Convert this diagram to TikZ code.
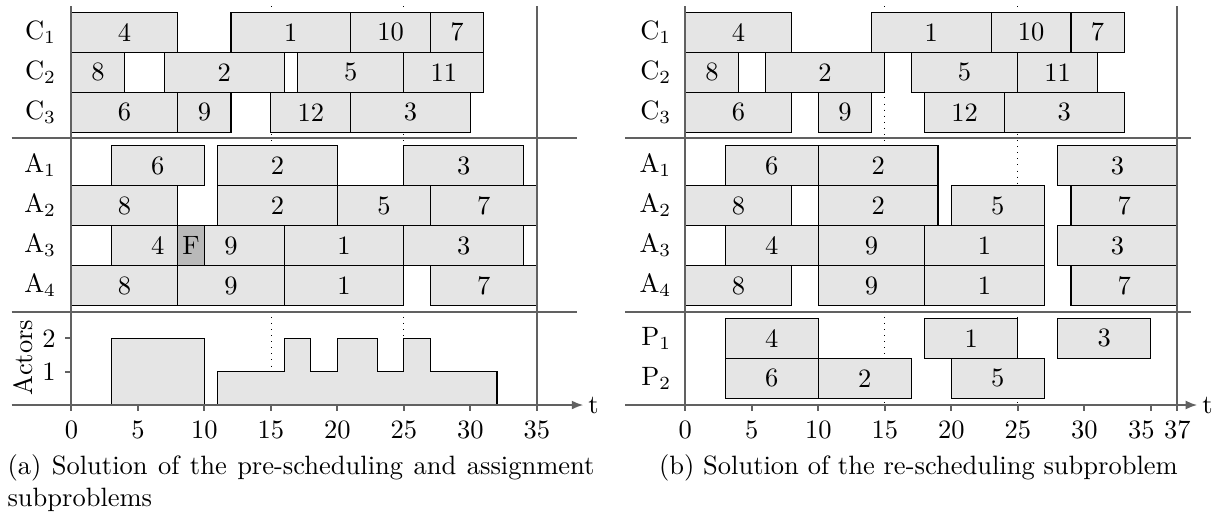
\documentclass[tikz,border=0pt]{standalone}
\usetikzlibrary{arrows.meta}
\tikzset{
  taskbox/.style={draw=black, fill=gray!20, line width=0.4pt},
  failbox/.style={draw=black, fill=gray!55, line width=0.4pt},
  tasklbl/.style={inner sep=0pt},
  axisline/.style={draw=black!62, line width=0.75pt},
  guide/.style={draw=black, dotted, line width=0.3pt},
  rowlbl/.style={anchor=east, inner sep=3.33pt},
  ticklbl/.style={anchor=north, inner sep=3.33pt},
  axisarrow/.style={axisline, -{Latex[length=4.4pt,width=3.4pt]}},
}
\newcommand\tsk[5]{\draw[taskbox] (#2,#4) rectangle node[tasklbl] (#1) {#5} (#3,{#4+40});}
\begin{document}
\begin{tikzpicture}[x=0.3774pt,y=-0.3774pt]
\useasboundingbox (0,0) rectangle (1222,514);
% ---------------- panel (a) ----------------
\begin{scope}[xshift=26.95pt, x=5.019pt]
\draw[guide] (15,6) -- (15,405);
\draw[guide] (25,6) -- (25,405);
\tsk{aC1a}{0}{8}{12.3}{4}
\tsk{aC1b}{12}{21}{12.3}{1}
\tsk{aC1c}{21}{27}{12.3}{10}
\tsk{aC1d}{27}{31}{12.3}{7}
\tsk{aC2a}{0}{4}{52.3}{8}
\tsk{aC2b}{7}{16}{52.3}{2}
\tsk{aC2c}{17}{25}{52.3}{5}
\tsk{aC2d}{25}{31}{52.3}{11}
\tsk{aC3a}{0}{8}{92.3}{6}
\tsk{aC3b}{8}{12}{92.3}{9}
\tsk{aC3c}{15}{21}{92.3}{12}
\tsk{aC3d}{21}{30}{92.3}{3}
\tsk{aA1a}{3}{10}{145.7}{6}
\tsk{aA1b}{11}{20}{145.7}{2}
\tsk{aA1c}{25}{34}{145.7}{3}
\tsk{aA2a}{0}{8}{185.7}{8}
\tsk{aA2b}{11}{20}{185.7}{2}
\tsk{aA2c}{20}{27}{185.7}{5}
\tsk{aA2d}{27}{35}{185.7}{7}
\tsk{aA3a}{3}{10}{225.7}{4}
\tsk{aA3b}{8}{16}{225.7}{9}
\draw[failbox] (8,225.7) rectangle node[tasklbl] (aF) {F} (10,265.7);
\tsk{aA3c}{16}{25}{225.7}{1}
\tsk{aA3d}{25}{34}{225.7}{3}
\tsk{aA4a}{0}{8}{265.7}{8}
\tsk{aA4b}{8}{16}{265.7}{9}
\tsk{aA4c}{16}{25}{265.7}{1}
\tsk{aA4d}{27}{35}{265.7}{7}
% actors profile
\draw[taskbox] (3,405) -- (3,338.3) -- (10,338.3) -- (10,405) -- cycle;
\draw[taskbox] (11,405) -- (11,371.7) -- (16,371.7) -- (16,338.3) -- (18,338.3) -- (18,371.7)
  -- (20,371.7) -- (20,338.3) -- (23,338.3) -- (23,371.7) -- (25,371.7) -- (25,338.3)
  -- (27,338.3) -- (27,371.7) -- (32,371.7) -- (32,405) -- cycle;
% frame
\draw[axisline] (-4.5,138.3) -- (38,138.3);
\draw[axisline] (-4.5,311.7) -- (38,311.7);
\draw[axisline] (0,6) -- (0,411);
\draw[axisline] (35,6) -- (35,411);
\draw[axisarrow] (-4.5,405) -- (38.5,405) node[right, inner sep=1.5pt] (at) {t};
\foreach \t in {5,10,...,30} \draw[axisline] (\t,405) -- (\t,411);
\foreach \t in {0,5,...,35} \node[ticklbl] (atl\t) at (\t,411) {\t};
\draw[axisline] (0,338.3) -- (-0.45,338.3) node[left, inner sep=3.33pt] (ay2) {2};
\draw[axisline] (0,371.7) -- (-0.45,371.7) node[left, inner sep=3.33pt] (ay1) {1};
\node[rotate=90, inner sep=0pt] (aact) at (-3.64,357.5) {Actors};
\node[rowlbl] (aLC1) at (-0.45,32.3) {$\mathrm{C}_1$};
\node[rowlbl] (aLC2) at (-0.45,72.3) {$\mathrm{C}_2$};
\node[rowlbl] (aLC3) at (-0.45,112.3) {$\mathrm{C}_3$};
\node[rowlbl] (aLA1) at (-0.45,165.7) {$\mathrm{A}_1$};
\node[rowlbl] (aLA2) at (-0.45,205.7) {$\mathrm{A}_2$};
\node[rowlbl] (aLA3) at (-0.45,245.7) {$\mathrm{A}_3$};
\node[rowlbl] (aLA4) at (-0.45,285.7) {$\mathrm{A}_4$};
\end{scope}
% ---------------- panel (b) ----------------
\begin{scope}[xshift=258.63pt, x=5.019pt]
\draw[guide] (15,6) -- (15,405);
\draw[guide] (25,6) -- (25,405);
\tsk{bC1a}{0}{8}{12.3}{4}
\tsk{bC1b}{14}{23}{12.3}{1}
\tsk{bC1c}{23}{29}{12.3}{10}
\tsk{bC1d}{29}{33}{12.3}{7}
\tsk{bC2a}{0}{4}{52.3}{8}
\tsk{bC2b}{6}{15}{52.3}{2}
\tsk{bC2c}{17}{25}{52.3}{5}
\tsk{bC2d}{25}{31}{52.3}{11}
\tsk{bC3a}{0}{8}{92.3}{6}
\tsk{bC3b}{10}{14}{92.3}{9}
\tsk{bC3c}{18}{24}{92.3}{12}
\tsk{bC3d}{24}{33}{92.3}{3}
\tsk{bA1a}{3}{10}{145.7}{6}
\tsk{bA1b}{10}{19}{145.7}{2}
\tsk{bA1c}{28}{37}{145.7}{3}
\tsk{bA2a}{0}{8}{185.7}{8}
\tsk{bA2b}{10}{19}{185.7}{2}
\tsk{bA2c}{20}{27}{185.7}{5}
\tsk{bA2d}{29}{37}{185.7}{7}
\tsk{bA3a}{3}{10}{225.7}{4}
\tsk{bA3b}{10}{18}{225.7}{9}
\tsk{bA3c}{18}{27}{225.7}{1}
\tsk{bA3d}{28}{37}{225.7}{3}
\tsk{bA4a}{0}{8}{265.7}{8}
\tsk{bA4b}{10}{18}{265.7}{9}
\tsk{bA4c}{18}{27}{265.7}{1}
\tsk{bA4d}{29}{37}{265.7}{7}
\tsk{bP1a}{3}{10}{318.3}{4}
\tsk{bP1b}{18}{25}{318.3}{1}
\tsk{bP1c}{28}{35}{318.3}{3}
\tsk{bP2a}{3}{10}{358.3}{6}
\tsk{bP2b}{10}{17}{358.3}{2}
\tsk{bP2c}{20}{27}{358.3}{5}
% frame
\draw[axisline] (-4.5,138.3) -- (38,138.3);
\draw[axisline] (-4.5,311.7) -- (38,311.7);
\draw[axisline] (0,6) -- (0,411);
\draw[axisline] (37,6) -- (37,411);
\draw[axisarrow] (-4.5,405) -- (38.5,405) node[right, inner sep=1.5pt] (bt) {t};
\foreach \t in {5,10,...,35} \draw[axisline] (\t,405) -- (\t,411);
\foreach \t in {0,5,...,30} \node[ticklbl] (btl\t) at (\t,411) {\t};
\node[ticklbl] (btl35) at (34.3,411) {35};
\node[ticklbl] (btl37) at (37,411) {37};
\node[rowlbl] (bLC1) at (-0.35,32.3) {$\mathrm{C}_1$};
\node[rowlbl] (bLC2) at (-0.35,72.3) {$\mathrm{C}_2$};
\node[rowlbl] (bLC3) at (-0.35,112.3) {$\mathrm{C}_3$};
\node[rowlbl] (bLA1) at (-0.35,165.7) {$\mathrm{A}_1$};
\node[rowlbl] (bLA2) at (-0.35,205.7) {$\mathrm{A}_2$};
\node[rowlbl] (bLA3) at (-0.35,245.7) {$\mathrm{A}_3$};
\node[rowlbl] (bLA4) at (-0.35,285.7) {$\mathrm{A}_4$};
\node[rowlbl] (bLP1) at (-0.35,338.3) {$\mathrm{P}_1$};
\node[rowlbl] (bLP2) at (-0.35,378.3) {$\mathrm{P}_2$};
\end{scope}
% ---------------- captions ----------------
\node[text width=221.5pt, align=justify, anchor=north west, inner sep=0pt] (capa) at (7,454)
  {(a) Solution of the pre-scheduling and assignment subproblems};
\node[anchor=base, inner sep=0pt] (capb) at (918.4,474) {(b) Solution of the re-scheduling subproblem};
\end{tikzpicture}
\end{document}
